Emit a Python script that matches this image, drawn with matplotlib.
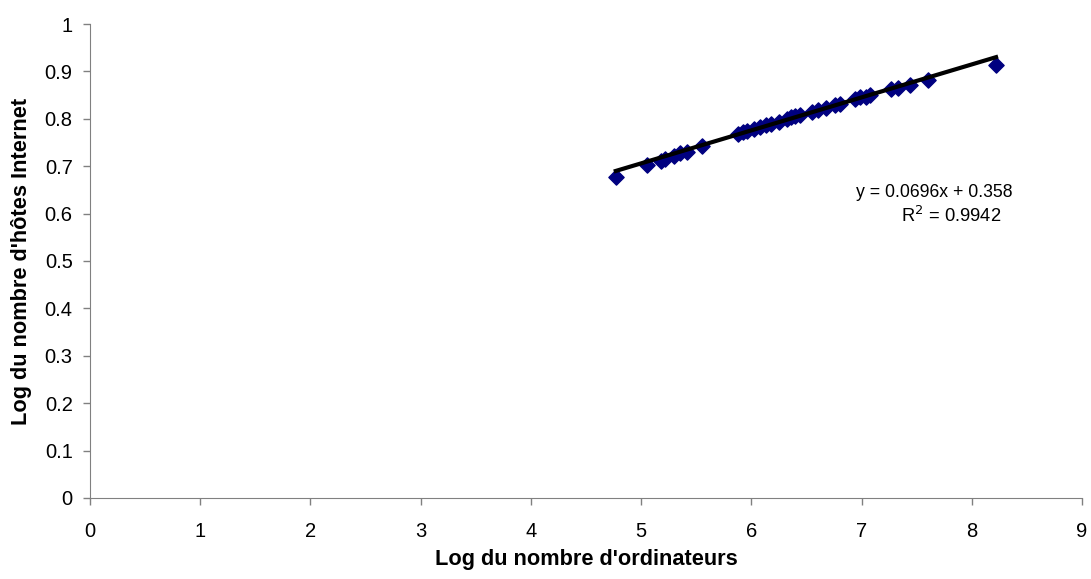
import numpy as np
import matplotlib
matplotlib.use("Agg")
import matplotlib.pyplot as plt

plt.rcParams['font.family'] = ['Liberation Sans', 'DejaVu Sans']

# log of number of computers vs log of number of internet hosts
log_ordinateurs = [4.77, 5.05, 5.18, 5.22, 5.30, 5.35, 5.42, 5.55, 5.88, 5.92,
                   5.96, 6.02, 6.08, 6.13, 6.18, 6.25, 6.32, 6.36, 6.40, 6.44,
                   6.55, 6.60, 6.68, 6.76, 6.80, 6.94, 6.99, 7.04, 7.08, 7.27,
                   7.33, 7.44, 7.60, 8.22]
log_hotes = [0.678, 0.703, 0.712, 0.716, 0.722, 0.727, 0.731, 0.743, 0.767, 0.772,
             0.774, 0.778, 0.782, 0.786, 0.790, 0.793, 0.799, 0.803, 0.806, 0.808,
             0.814, 0.818, 0.823, 0.829, 0.831, 0.841, 0.845, 0.847, 0.850, 0.862,
             0.865, 0.872, 0.882, 0.913]

slope, intercept = 0.0696, 0.358
r2 = 0.9942

fig = plt.figure(figsize=(10.91, 5.79), dpi=100)
ax = fig.add_axes([0.0825, 0.14, 0.9093, 0.8185])

ax.scatter(log_ordinateurs, log_hotes, marker="D", s=60, color="#000080",
           edgecolors="#000080", zorder=2)
xs = np.array([min(log_ordinateurs), max(log_ordinateurs)])
ax.plot(xs, slope * xs + intercept, color="black", lw=3, zorder=3)

ax.set_xlim(0, 9)
ax.set_ylim(0, 1)
ax.set_xticks(range(0, 10))
ax.set_yticks(np.arange(0, 1.01, 0.1))
ax.set_yticklabels(["0", "0.1", "0.2", "0.3", "0.4", "0.5", "0.6", "0.7", "0.8", "0.9", "1"])
ax.tick_params(direction="out", length=5, width=1, color="#808080", labelsize=14.5)
ax.tick_params(axis="y", pad=7.5)
ax.tick_params(axis="x", pad=12)
for s in ["top", "right"]:
    ax.spines[s].set_visible(False)
for s in ["left", "bottom"]:
    ax.spines[s].set_color("#808080")

ax.set_xlabel("Log du nombre d'ordinateurs", fontsize=15.7, fontweight="bold", labelpad=6)
ax.set_ylabel("Log du nombre d'hôtes Internet", fontsize=15.7, fontweight="bold", labelpad=9)

ax.text(7.66, 0.645, "y = %.4fx + %.3f" % (slope, intercept), fontsize=12.7, ha="center", va="center")
ax.text(7.81, 0.595, "R$^2$ = %.4f" % r2, fontsize=13.2, ha="center", va="center")

fig.savefig("out.png", dpi=100)
